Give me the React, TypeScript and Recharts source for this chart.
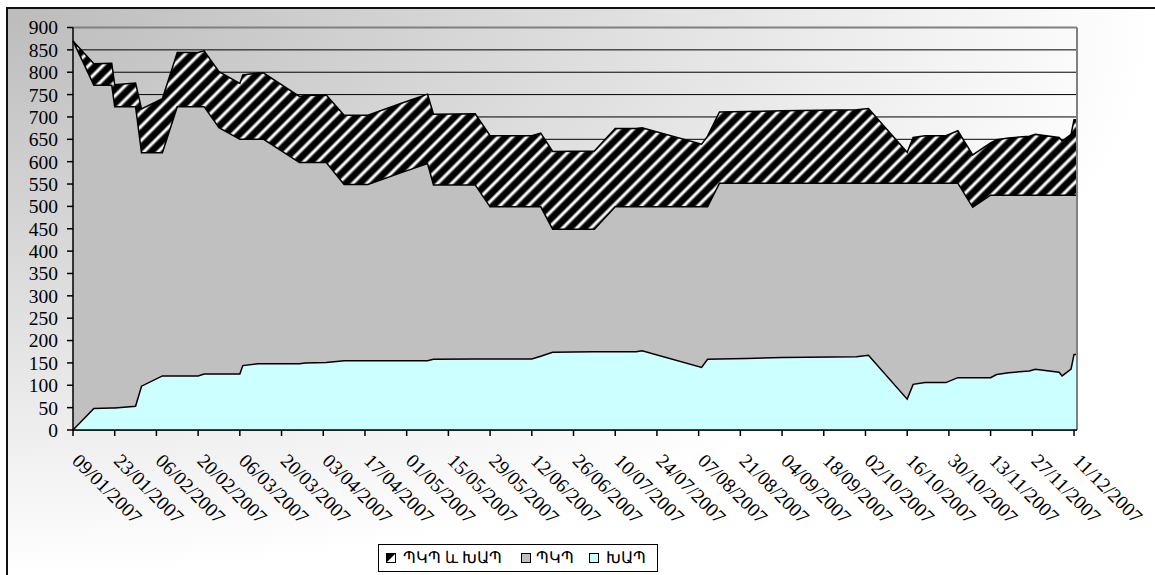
import React from 'react';
import { ComposedChart, Area, Line, XAxis, YAxis, CartesianGrid, ReferenceLine } from 'recharts';

// observation dates (dd/mm/yyyy)
const dates = [
  '09/01/2007', '16/01/2007', '22/01/2007', '23/01/2007', '30/01/2007', '01/02/2007', '08/02/2007',
  '13/02/2007', '20/02/2007', '22/02/2007', '27/02/2007', '06/03/2007', '07/03/2007', '12/03/2007',
  '14/03/2007', '26/03/2007', '28/03/2007', '04/04/2007', '10/04/2007', '18/04/2007', '29/04/2007',
  '08/05/2007', '10/05/2007', '24/05/2007', '29/05/2007', '12/06/2007', '15/06/2007', '19/06/2007',
  '03/07/2007', '10/07/2007', '17/07/2007', '19/07/2007', '08/08/2007', '10/08/2007', '14/08/2007',
  '23/08/2007', '04/09/2007', '29/09/2007', '03/10/2007', '16/10/2007', '18/10/2007', '22/10/2007',
  '29/10/2007', '02/11/2007', '07/11/2007', '13/11/2007', '15/11/2007', '19/11/2007', '26/11/2007',
  '28/11/2007', '06/12/2007', '07/12/2007', '10/12/2007', '11/12/2007', '12/12/2007',
];

// ՊԿՊ
const pkpValues = [
  870, 771, 771, 723, 723, 620, 620,
  723, 723, 723, 676, 650, 650, 650,
  650, 598, 598, 598, 549, 549, 575,
  596, 548, 548, 499, 499, 499, 449,
  449, 499, 499, 499, 499, 499, 552,
  552, 552, 552, 552, 552, 552, 552,
  552, 552, 498, 525, 525, 525, 525,
  525, 525, 525, 525, 525, 525,
];

// ԽԱՊ
const khapValues = [
  0, 48, 49, 49, 53, 98, 121,
  121, 121, 125, 125, 125, 144, 148,
  148, 148, 150, 151, 155, 155, 155,
  155, 158, 159, 159, 159, 165, 174,
  175, 175, 175, 177, 140, 158, 159,
  160, 162, 164, 167, 69, 102, 106,
  106, 117, 117, 117, 124, 128, 132,
  136, 129, 121, 136, 169, 169,
];

const dateTicks = [
  '09/01/2007', '23/01/2007', '06/02/2007', '20/02/2007', '06/03/2007', '20/03/2007', '03/04/2007',
  '17/04/2007', '01/05/2007', '15/05/2007', '29/05/2007', '12/06/2007', '26/06/2007', '10/07/2007',
  '24/07/2007', '07/08/2007', '21/08/2007', '04/09/2007', '18/09/2007', '02/10/2007', '16/10/2007',
  '30/10/2007', '13/11/2007', '27/11/2007', '11/12/2007',
];

const yTicks = [0, 50, 100, 150, 200, 250, 300, 350, 400, 450, 500, 550, 600, 650, 700, 750, 800, 850, 900];

const legendNames = ['ՊԿՊ և ԽԱՊ', 'ՊԿՊ', 'ԽԱՊ'];

const toDay = (s: string) => {
  const [d, m, y] = s.split('/').map(Number);
  return Math.round((Date.UTC(y, m - 1, d) - Date.UTC(2007, 0, 9)) / 86400000);
};
const dayLabel = new Map(dateTicks.map((s) => [toDay(s), s]));

const data = dates.map((d, i) => ({ day: toDay(d), pkp: pkpValues[i], khap: khapValues[i] }));

const FONT = "'Times New Roman', 'Liberation Serif', serif";

const DateTick = (props: any) => {
  const { x, y, payload } = props;
  const bx = x - 2;
  const by = y + 26;
  return (
    <text x={bx} y={by} transform={`rotate(45 ${bx} ${by})`} textAnchor="start"
      fontFamily={FONT} fontSize={19.5} fill="#000">
      {dayLabel.get(payload.value)}
    </text>
  );
};

const Swatch = ({ kind }: { kind: number }) => (
  <svg width={10} height={10} style={{ display: 'block' }}>
    {kind === 0 && (
      <>
        <rect x={0.5} y={0.5} width={9} height={9} fill="#000" stroke="#000" />
        <path d="M1 9 L9 1 L9 9 Z" fill="#fff" />
      </>
    )}
    {kind === 1 && <rect x={0.5} y={0.5} width={9} height={9} fill="#c0c0c0" stroke="#000" />}
    {kind === 2 && <rect x={0.5} y={0.5} width={9} height={9} fill="#ccffff" stroke="#000" />}
  </svg>
);

// legend item offsets inside the legend box: [swatch, text]
const legendPos = [[7, 24], [142, 157], [210, 227]];

export default function App() {
  return (
    <div
      style={{
        position: 'absolute', left: 6, top: 7, width: 1147, height: 566,
        borderLeft: '2px solid #111', borderTop: '2px solid #111', overflow: 'hidden',
        background: 'radial-gradient(ellipse 100% 100% at 0% 0%, #bcbcbc 0%, #ffffff 100%)',
      }}
    >
      <ComposedChart width={1147} height={566} data={data}
        margin={{ top: 18.5, right: 78, left: 0, bottom: 0 }}>
        <defs>
          <linearGradient id="stripeGrad" x1="0" y1="0" x2="1" y2="0">
            <stop offset="0%" stopColor="#000" />
            <stop offset="45%" stopColor="#000" />
            <stop offset="66%" stopColor="#fff" />
            <stop offset="76%" stopColor="#fff" />
            <stop offset="97%" stopColor="#000" />
            <stop offset="100%" stopColor="#000" />
          </linearGradient>
          <pattern id="hatch" width={10} height={10} patternUnits="userSpaceOnUse" patternTransform="rotate(45)">
            <rect width={10} height={10} fill="url(#stripeGrad)" />
          </pattern>
        </defs>
        <CartesianGrid horizontal vertical={false} stroke="#000" strokeWidth={1} />
        <XAxis dataKey="day" type="number" domain={['dataMin', 'dataMax']}
          ticks={dateTicks.map(toDay)} interval={0} height={145}
          tickSize={6} tickMargin={0} tick={<DateTick />}
          axisLine={{ stroke: '#000', strokeWidth: 1.5 }} tickLine={{ stroke: '#000', strokeWidth: 1.5 }} />
        <YAxis type="number" domain={[0, 900]} ticks={yTicks} interval={0} width={65}
          tickSize={6} tickMargin={9}
          tick={{ fontFamily: FONT, fontSize: 19.5, fill: '#000' }}
          axisLine={{ stroke: '#000', strokeWidth: 1.5 }} tickLine={{ stroke: '#000', strokeWidth: 1.5 }} />
        <Area type="linear" dataKey="pkp" stackId="s" fill="#c0c0c0" fillOpacity={1} stroke="none"
          isAnimationActive={false} />
        <Area type="linear" dataKey="khap" stackId="s" fill="url(#hatch)" fillOpacity={1} stroke="#000"
          strokeWidth={1.5} isAnimationActive={false} />
        <Line type="linear" dataKey="pkp" stroke="#000" strokeWidth={1.5} dot={false} activeDot={false}
          isAnimationActive={false} />
        <Area type="linear" dataKey="khap" fill="#ccffff" fillOpacity={1} stroke="#000" strokeWidth={1.5}
          isAnimationActive={false} />
        <ReferenceLine y={900} stroke="#808080" strokeWidth={2} />
        <ReferenceLine x={toDay('12/12/2007')} stroke="#808080" strokeWidth={2} />
      </ComposedChart>
      <div
        style={{
          position: 'absolute', left: 370, top: 535, width: 278, height: 26,
          border: '1.5px solid #000', fontFamily: FONT, fontSize: 16, color: '#000', whiteSpace: 'nowrap',
        }}
      >
        {legendNames.map((name, i) => (
          <React.Fragment key={name}>
            <div style={{ position: 'absolute', left: legendPos[i][0], top: 8 }}>
              <Swatch kind={i} />
            </div>
            <span style={{ position: 'absolute', left: legendPos[i][1], top: 2, lineHeight: '22px' }}>
              {name}
            </span>
          </React.Fragment>
        ))}
      </div>
    </div>
  );
}
